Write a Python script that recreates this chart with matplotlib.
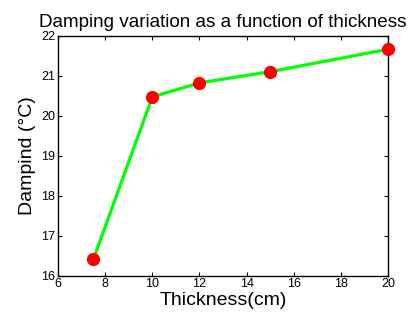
import matplotlib
matplotlib.use("Agg")
import matplotlib.pyplot as plt

thickness = [7.5, 10, 12, 15, 20]
damping = [16.41, 20.47, 20.82, 21.10, 21.66]
x_ticks = [6, 8, 10, 12, 14, 16, 18, 20]
y_ticks = [16, 17, 18, 19, 20, 21, 22]

plt.rcParams["font.family"] = ["Liberation Sans", "DejaVu Sans"]

fig = plt.figure(figsize=(4.15, 3.23), dpi=100)
ax = fig.add_axes([0.1398, 0.1464, 0.7952, 0.7431])

ax.plot(thickness, damping, color="#00ff00", linewidth=2.3, zorder=2)
ax.plot(thickness, damping, linestyle="none", marker="o", markersize=8.5,
        markerfacecolor="#ff0000", markeredgecolor="#ff0000", zorder=3,
        clip_on=False)

ax.set_xlim(6, 20)
ax.set_ylim(16, 22)
ax.set_xticks(x_ticks)
ax.set_yticks(y_ticks)
ax.tick_params(direction="in", top=True, right=True, length=3, width=0.8,
               labelsize=9, pad=2)
for s in ax.spines.values():
    s.set_linewidth(1.0)

ax.set_title("Damping variation as a function of thickness", fontsize=13.6, pad=6)
ax.set_xlabel("Thickness(cm)", fontsize=14, labelpad=1)
ax.set_ylabel("Dampind (°C)", fontsize=14, labelpad=4)

fig.savefig("out.png", dpi=100)
